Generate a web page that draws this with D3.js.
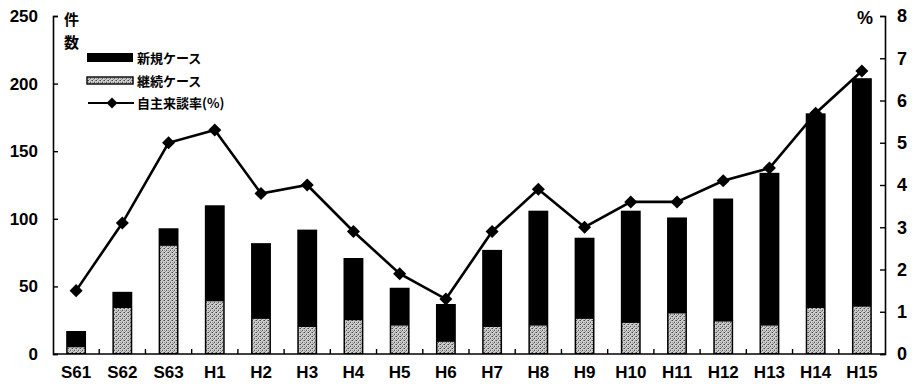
<!DOCTYPE html>
<html><head><meta charset="utf-8">
<script src="https://cdn.jsdelivr.net/npm/d3@7"></script>
<style>body{margin:0;background:#fff}svg{display:block}</style>
</head><body>
<script>
const categories = ["S61","S62","S63","H1","H2","H3","H4","H5","H6","H7","H8","H9","H10","H11","H12","H13","H14","H15"];
const totalCases = [17,46,93,110,82,92,71,49,37,77,106,86,106,101,115,134,178,204];
const continuingCases = [5,34,80,39,26,20,25,21,9,20,21,26,23,30,24,21,34,35];
const newCases = totalCases.map((t,i)=>t-continuingCases[i]);
const rate = [1.5,3.1,5.0,5.3,3.8,4.0,2.9,1.9,1.3,2.9,3.9,3.0,3.6,3.6,4.1,4.4,5.7,6.7];
const leftTicks = [0,50,100,150,200,250];
const rightTicks = [0,1,2,3,4,5,6,7,8];
const legendLabels = ["新規ケース","継続ケース","自主来談率(%)"];

const W=912,H=389;
const svg=d3.select("body").append("svg").attr("width",W).attr("height",H);
const font="'Liberation Sans', Arial, sans-serif";
const cjk="'Noto Sans CJK JP', sans-serif";

const defs=svg.append("defs");
const pat=defs.append("pattern").attr("id","stip").attr("patternUnits","userSpaceOnUse").attr("width",4).attr("height",4);
pat.append("rect").attr("width",4).attr("height",4).attr("fill","#cfcfcf");
[[0,0,"#444"],[2,2,"#555"],[3,0,"#888"],[1,3,"#888"],[2,1,"#aaa"],[0,2,"#999"]].forEach(p=>
  pat.append("rect").attr("x",p[0]).attr("y",p[1]).attr("width",1).attr("height",1).attr("fill",p[2]));

const x0=53,x1=885,y0=354,y1=16;
const x=d3.scaleBand().domain(categories).range([x0,x1]).paddingInner(0.57).paddingOuter(0.285);
const xb=d3.scaleBand().domain(categories).range([x0,x1]);
const yL=d3.scaleLinear().domain([0,250]).range([y0,y1]);
const yR=d3.scaleLinear().domain([0,8]).range([y0,y1]);

// bars
const g=svg.append("g");
g.selectAll(".tot").data(categories).join("rect")
 .attr("x",d=>x(d)).attr("width",x.bandwidth())
 .attr("y",(d,i)=>yL(totalCases[i])).attr("height",(d,i)=>y0-yL(totalCases[i]))
 .attr("fill","#000");
g.selectAll(".cont").data(categories).join("rect")
 .attr("x",d=>x(d)+1.5).attr("width",x.bandwidth()-3)
 .attr("y",(d,i)=>yL(continuingCases[i])).attr("height",(d,i)=>y0-yL(continuingCases[i])-1)
 .attr("fill","url(#stip)");

// axes
const axL=d3.axisLeft(yL).tickValues(leftTicks).tickSize(-5).tickPadding(18);
const gl=svg.append("g").attr("transform",`translate(${x0},0)`).call(axL);
const axR=d3.axisRight(yR).tickValues(rightTicks).tickSize(-5).tickPadding(15);
const gr=svg.append("g").attr("transform",`translate(${x1},0)`).call(axR);
const axB=d3.axisBottom(xb).tickSize(0).tickPadding(12);
const gb=svg.append("g").attr("transform",`translate(0,${y0})`).call(axB);
[gl,gr,gb].forEach(a=>{
  a.select(".domain").attr("stroke","#000").attr("stroke-width",1.6);
  a.selectAll(".tick line").attr("stroke","#000").attr("stroke-width",1.4);
  a.selectAll("text").attr("font-family",font).attr("font-weight","bold").attr("font-size",17).attr("fill","#000");
});
gl.selectAll(".tick text").attr("x",-15);
gr.selectAll(".tick text").attr("x",12).attr("font-size",18);
gb.select(".domain").attr("d",`M${x0},0H${x1}`);
// x boundary ticks
svg.append("g").selectAll("line").data(categories.slice(1)).join("line")
 .attr("x1",d=>xb(d)).attr("x2",d=>xb(d)).attr("y1",y0).attr("y2",y0-5)
 .attr("stroke","#000").attr("stroke-width",1.4);

// line
const line=d3.line().x((d,i)=>xb(categories[i])+xb.bandwidth()/2).y(d=>yR(d));
svg.append("path").datum(rate).attr("d",line).attr("fill","none").attr("stroke","#000").attr("stroke-width",2.6);
svg.append("g").selectAll("path").data(rate).join("path")
 .attr("d",d3.symbol().type(d3.symbolSquare).size(85))
 .attr("transform",(d,i)=>`translate(${xb(categories[i])+xb.bandwidth()/2},${yR(d)}) rotate(45)`)
 .attr("fill","#000");

// axis titles
svg.append("text").attr("x",64).attr("y",25).text("件").attr("font-family",cjk).attr("font-weight","bold").attr("font-size",15);
svg.append("text").attr("x",64).attr("y",48).text("数").attr("font-family",cjk).attr("font-weight","bold").attr("font-size",15);
svg.append("text").attr("x",857).attr("y",24).text("%").attr("font-family",font).attr("font-weight","bold").attr("font-size",18);

// legend
const lg=svg.append("g");
lg.append("rect").attr("x",87).attr("y",53).attr("width",46).attr("height",9).attr("fill","#000");
lg.append("rect").attr("x",87).attr("y",77).attr("width",46).attr("height",7).attr("fill","url(#stip)").attr("stroke","#000").attr("stroke-width",1.4);
lg.append("line").attr("x1",88).attr("x2",134).attr("y1",103).attr("y2",103).attr("stroke","#000").attr("stroke-width",2);
lg.append("path").attr("d",d3.symbol().type(d3.symbolSquare).size(60)).attr("transform","translate(112,103) rotate(45)").attr("fill","#000");
const ly=[58,81,103];
lg.selectAll("text").data(legendLabels).join("text")
 .attr("x",137).attr("y",(d,i)=>ly[i]).attr("dy","0.35em")
 .text(d=>d).attr("font-family",cjk).attr("font-weight","bold").attr("font-size",13);
</script>
</body></html>
